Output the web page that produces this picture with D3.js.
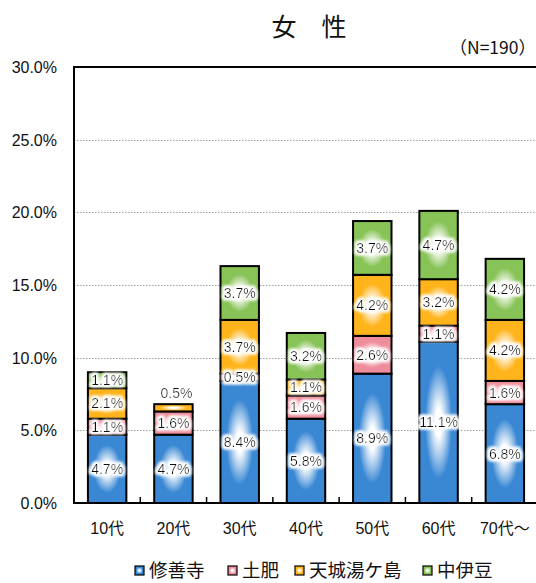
<!DOCTYPE html>
<html>
<head>
<meta charset="utf-8">
<script src="https://cdn.jsdelivr.net/npm/d3@7"></script>
<style>
  body { margin: 0; background: #fff; }
  svg { display: block; font-family: "Liberation Sans", Arial, "Noto Sans CJK JP", sans-serif; }
</style>
</head>
<body>
<svg id="chart" width="536" height="583"></svg>
<script>
// data
const categories = ["10代", "20代", "30代", "40代", "50代", "60代", "70代～"]
const seriesNames = ["修善寺", "土肥", "天城湯ケ島", "中伊豆"]
const shuzenji = [4.7, 4.7, 8.4, 5.8, 8.9, 11.1, 6.8]
const toi = [1.1, 1.6, 0.5, 1.6, 2.6, 1.1, 1.6]
const amagi = [2.1, 0.5, 3.7, 1.1, 4.2, 3.2, 4.2]
const nakaizu = [1.1, 0, 3.7, 3.2, 3.7, 4.7, 4.2]
const yTicks = [0, 5, 10, 15, 20, 25, 30]
const colors = ["#3a88d4", "#ee8e9c", "#ffb41c", "#88c358"]

const svg = d3.select("#chart")
const margin = {left: 74, right: -2, top: 67, bottom: 80}
const W = 536, H = 583
const plotB = 503

const x = d3.scaleBand().domain(categories).range([margin.left, W - margin.right]).paddingInner(0.42).paddingOuter(0.21)
const xOuter = d3.scaleBand().domain(categories).range([margin.left, W - margin.right])
const y = d3.scaleLinear().domain([0, 30]).range([plotB, margin.top])

const defs = svg.append("defs")
colors.forEach((c, i) => {
  const g = defs.append("radialGradient").attr("id", "grad" + i)
    .attr("cx", "50%").attr("cy", "50%").attr("r", "70%")
  g.append("stop").attr("offset", "0%").attr("stop-color", "#ffffff")
  g.append("stop").attr("offset", "12%").attr("stop-color", "#ffffff").attr("stop-opacity", 0.9)
  g.append("stop").attr("offset", "50%").attr("stop-color", c)
  g.append("stop").attr("offset", "100%").attr("stop-color", c)
})
const glow = defs.append("filter").attr("id", "halo").attr("x", "-20%").attr("y", "-40%").attr("width", "140%").attr("height", "180%")
glow.append("feMorphology").attr("in", "SourceAlpha").attr("operator", "dilate").attr("radius", 1.8).attr("result", "d")
glow.append("feGaussianBlur").attr("in", "d").attr("stdDeviation", 1.5).attr("result", "b")
glow.append("feFlood").attr("flood-color", "#fff")
glow.append("feComposite").attr("in2", "b").attr("operator", "in").attr("result", "w")
const fm = glow.append("feMerge")
fm.append("feMergeNode").attr("in", "w")
fm.append("feMergeNode").attr("in", "w")
fm.append("feMergeNode").attr("in", "SourceGraphic")

// gridlines
svg.append("g").selectAll("line").data(yTicks.filter(t => t > 0 && t < 30)).join("line")
  .attr("x1", margin.left).attr("x2", W)
  .attr("y1", d => Math.round(y(d)) + 0.5).attr("y2", d => Math.round(y(d)) + 0.5)
  .attr("stroke", "#a0a0a0").attr("stroke-width", 1).attr("stroke-dasharray", "1.5,1.5")

// y labels
svg.append("g").selectAll("text").data(yTicks).join("text")
  .attr("x", 57).attr("y", d => y(d) + 6)
  .attr("text-anchor", "end").attr("font-size", 16).attr("fill", "#111")
  .text(d => d.toFixed(1) + "%")

// stacked bars
const rows = categories.map((c, i) => ({cat: c, v: [shuzenji[i], toi[i], amagi[i], nakaizu[i]]}))
const stackData = d3.stack().keys([0, 1, 2, 3]).value((d, k) => d.v[k])(rows)

const barG = svg.append("g")
const labelG = svg.append("g")
stackData.forEach((layer, k) => {
  layer.forEach(seg => {
    const val = seg[1] - seg[0]
    if (val <= 0) return
    const bx = x(seg.data.cat), bw = x.bandwidth()
    const y0 = y(seg[0]), y1 = y(seg[1])
    barG.append("rect").attr("x", bx).attr("y", y1).attr("width", bw).attr("height", y0 - y1)
      .attr("fill", "url(#grad" + k + ")").attr("stroke", "#000").attr("stroke-width", 2)
    const above = seg.data.cat === "20代" && k === 2
    const ty = above ? y1 - 6 : (y0 + y1) / 2 + 5
    labelG.append("text").attr("x", bx + bw / 2 + (above ? 3 : 0)).attr("y", ty)
      .attr("text-anchor", "middle").attr("font-size", 14).attr("fill", "#111")
      .attr("filter", "url(#halo)")
      .text(val.toFixed(1) + "%")
  })
})

// frame
svg.append("line").attr("x1", margin.left).attr("x2", W).attr("y1", margin.top).attr("y2", margin.top)
  .attr("stroke", "#000").attr("stroke-width", 2)
svg.append("line").attr("x1", margin.left).attr("x2", margin.left).attr("y1", margin.top - 1).attr("y2", plotB + 1)
  .attr("stroke", "#000").attr("stroke-width", 2)
svg.append("line").attr("x1", margin.left - 1).attr("x2", W).attr("y1", plotB).attr("y2", plotB)
  .attr("stroke", "#000").attr("stroke-width", 2)

// category ticks (inside)
svg.append("g").selectAll("line").data(categories.slice(1)).join("line")
  .attr("x1", d => xOuter(d)).attr("x2", d => xOuter(d))
  .attr("y1", plotB).attr("y2", plotB - 6)
  .attr("stroke", "#000").attr("stroke-width", 1.5)

// x labels
svg.append("g").selectAll("text").data(categories).join("text")
  .attr("x", d => x(d) + x.bandwidth() / 2).attr("y", 534)
  .attr("text-anchor", "middle").attr("font-size", 16).attr("fill", "#111")
  .text(d => d)

// title
svg.append("text").attr("x", 309).attr("y", 36).attr("text-anchor", "middle")
  .attr("font-size", 25).attr("font-family", "Noto Sans CJK JP")
  .attr("fill", "#111").text("女　性")
svg.append("text").attr("x", 536).attr("y", 54).attr("text-anchor", "end")
  .attr("font-size", 17.5).attr("font-family", "Noto Sans CJK JP").attr("fill", "#111").text("（N=190）")

// legend
const legendX = [135, 228, 295, 423]
const lg = svg.append("g")
seriesNames.forEach((n, i) => {
  lg.append("rect").attr("x", legendX[i]).attr("y", 566).attr("width", 9).attr("height", 9)
    .attr("fill", "url(#grad" + i + ")").attr("stroke", "#000").attr("stroke-width", 1.2)
  lg.append("text").attr("x", legendX[i] + 14).attr("y", 577).attr("font-size", 18.5)
    .attr("font-family", "Noto Sans CJK JP").attr("fill", "#111").text(n)
})
</script>
</body>
</html>
